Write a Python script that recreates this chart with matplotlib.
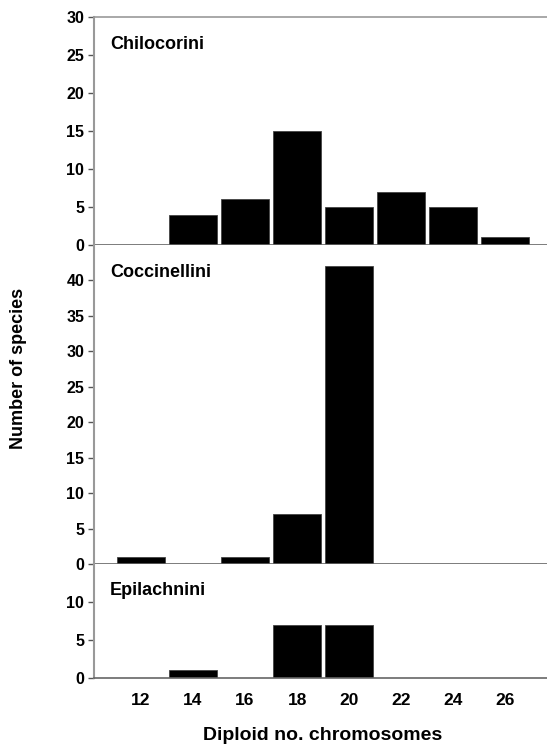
import matplotlib
matplotlib.use('Agg')
from matplotlib import pyplot as plt

plt.rcParams['font.family'] = ['Liberation Sans', 'DejaVu Sans']
plt.rcParams['font.weight'] = 'bold'

# diploid chromosome numbers (bar positions)
chromosomes = [12, 14, 16, 18, 20, 22, 24, 26]
# number of species per tribe
chilocorini = [0, 4, 6, 15, 5, 7, 5, 1]
coccinellini = [1, 0, 1, 7, 42, 0, 0, 0]
epilachnini = [0, 1, 0, 7, 7, 0, 0, 0]

tribes = ['Chilocorini', 'Coccinellini', 'Epilachnini']
series = [chilocorini, coccinellini, epilachnini]
ylims = [30, 45, 15]
yticks = [range(0, 31, 5), range(0, 41, 5), range(0, 11, 5)]

fig = plt.figure(figsize=(5.47, 7.47), dpi=100)
left, width = 94 / 547, 1 - 94 / 547
# (bottom, height) in figure fraction
boxes = [(0.672, 0.3052), (0.245, 0.427), (0.0928, 0.1522)]

for i, (name, vals) in enumerate(zip(tribes, series)):
    b, h = boxes[i]
    ax = fig.add_axes([left, b, width, h])
    ax.bar(chromosomes, vals, width=1.85, color='black', edgecolor='#444444', linewidth=0.6)
    ax.set_xlim(10.2, 27.6)
    ax.set_ylim(0, ylims[i])
    ax.set_yticks(list(yticks[i]))
    ax.tick_params(axis='y', length=4, width=1, color='#555555', labelsize=11.5, pad=3)
    ax.spines['right'].set_visible(False)
    ax.spines['left'].set_color('#999999')
    ax.spines['left'].set_linewidth(1.5)
    ax.spines['bottom'].set_color('#666666')
    ax.spines['bottom'].set_linewidth(1.2)
    if i == 0:
        ax.spines['top'].set_color('#999999')
        ax.spines['top'].set_linewidth(1.2)
    else:
        ax.spines['top'].set_visible(False)
    ax.text(0.035, 1 - 27 / (h * 747), name, transform=ax.transAxes,
            fontsize=13, fontweight='bold', va='center', ha='left')
    if i < 2:
        ax.set_xticks([])
    else:
        ax.set_xticks(chromosomes)
        ax.tick_params(axis='x', length=0, labelsize=12.5, pad=11)

fig.text(19 / 547, 1 - 368 / 747, 'Number of species', rotation=90,
         fontsize=13, fontweight='bold', ha='center', va='center')
fig.text(323 / 547, 1 - 736 / 747, 'Diploid no. chromosomes',
         fontsize=14, fontweight='bold', ha='center', va='center')

fig.savefig('out.png', dpi=100)
